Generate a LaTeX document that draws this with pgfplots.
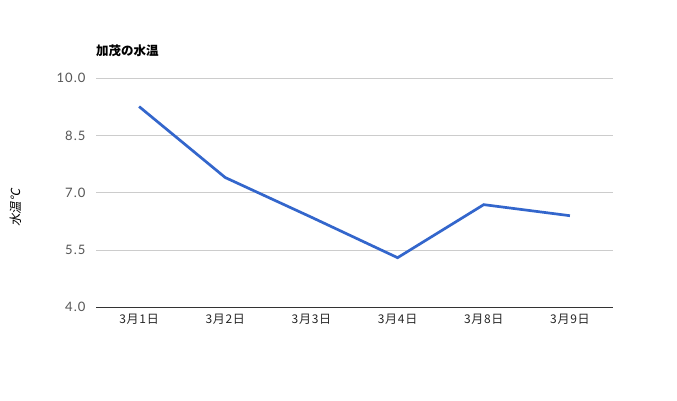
\documentclass[border=0pt]{standalone}
\usepackage{pgfplots}
\pgfplotsset{compat=1.18}
\usepackage{fontspec}
\setmainfont{Lato}
\newfontfamily\tickf[LetterSpace=8]{Lato}
\newfontfamily\cjk{Noto Sans CJK JP}
\newfontfamily\cjkl[LetterSpace=6]{Noto Sans CJK JP}
\newfontfamily\cjks[FakeSlant=0.2]{Noto Sans CJK JP}
\definecolor{line1}{HTML}{3366CC}
\definecolor{gridc}{HTML}{CCCCCC}
\definecolor{basec}{HTML}{333333}
\definecolor{tickc}{HTML}{555555}
\begin{document}
\begin{tikzpicture}[x=1pt,y=1pt]
\fill[white] (0,0) rectangle (677,400);
\begin{axis}[
  at={(96pt,92.7pt)}, anchor=south west,
  scale only axis, width=517pt, height=229pt,
  xmin=-0.5, xmax=5.5, ymin=4, ymax=10,
  xtick={0,1,2,3,4,5},
  xticklabels={3月1日,3月2日,3月3日,3月4日,3月8日,3月9日},
  ytick={4,5.5,7,8.5,10},
  yticklabel style={/pgf/number format/fixed,/pgf/number format/precision=1,/pgf/number format/fixed zerofill, font=\tickf\fontsize{13}{15}\selectfont, text=tickc, xshift=-7pt},
  /pgf/number format/assume math mode=true,
  xticklabel style={font=\cjkl\fontsize{12}{14}\selectfont, text=black!85, yshift=-3pt},
  major tick length=0pt,
  axis line style={draw=none},
  ymajorgrids, grid style={gridc, line width=0.75pt},
  clip=false,
]
\addplot[color=line1, line width=2.7pt] coordinates {(0,9.26)(1,7.40)(2,6.36)(3,5.30)(4,6.69)(5,6.40)};
\draw[basec, line width=0.9pt] (rel axis cs:0,0) -- (rel axis cs:1,0);
\end{axis}
\node[anchor=west, inner sep=0pt] at (96,349) {\cjk\bfseries\fontsize{12.5}{14}\selectfont 加茂の水温};
\node[rotate=90, inner sep=0pt] at (16,192) {\cjks\fontsize{12.5}{14}\selectfont 水温℃};
\end{tikzpicture}
\end{document}
